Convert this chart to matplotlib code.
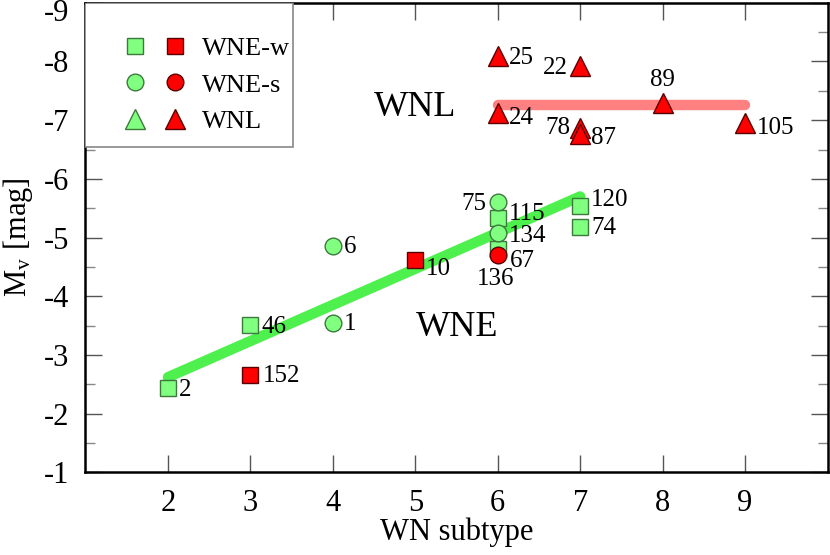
import numpy as np
import matplotlib.pyplot as plt
import matplotlib.transforms as mtransforms
from matplotlib.lines import Line2D
from matplotlib.patches import Rectangle
from matplotlib.legend_handler import HandlerTuple

plt.rcParams['font.family'] = ['Liberation Serif', 'DejaVu Serif']
plt.rcParams['mathtext.fontset'] = 'stix'

# WNE-w, green (squares)
wnew_g_sub = [2, 3, 6, 6, 7, 7]
wnew_g_mv = [-2.43, -3.51, -5.33, -4.80, -5.54, -5.18]
wnew_g_lab = ['2', '46', '115', '136', '120', '74']
# WNE-w, red (squares)
wnew_r_sub = [3, 5]
wnew_r_mv = [-2.65, -4.62]
wnew_r_lab = ['152', '10']
# WNE-s, green (circles)
wnes_g_sub = [4, 4, 6, 6]
wnes_g_mv = [-3.54, -4.85, -5.60, -5.07]
wnes_g_lab = ['1', '6', '75', '134']
# WNE-s, red (circles)
wnes_r_sub = [6]
wnes_r_mv = [-4.70]
wnes_r_lab = ['67']
# WNL, red (triangles)
wnl_r_sub = [6, 7, 6, 8, 7, 7, 9]
wnl_r_mv = [-8.10, -7.92, -7.12, -7.30, -6.86, -6.76, -6.96]
wnl_r_lab = ['25', '22', '24', '89', '78', '87', '105']

# fitted relations
wne_fit_x = [2, 7]
wne_fit_y = [-2.62, -5.70]
wnl_fit_x = [6, 9]
wnl_fit_y = [-7.26, -7.26]

# label offsets in pixels (dx, dy, ha)
offs = {
    '2': (11, -2, 'left'), '46': (11, -2, 'left'), '152': (12, -1, 'left'),
    '1': (11, -1, 'left'), '6': (11, -1, 'left'), '10': (11, -9, 'left'),
    '75': (-11, -2, 'right'), '115': (11, 4, 'left'), '134': (11, -3, 'left'),
    '67': (12, -6, 'left'), '136': (-2, -30, 'center'), '120': (11, 6, 'left'),
    '74': (11, -1, 'left'), '25': (11, -2, 'left'), '22': (-12, -2, 'right'),
    '24': (11, -5, 'left'), '89': (0, 23, 'center'), '78': (-10, 0, 'right'),
    '87': (11, -4, 'left'), '105': (12, -5, 'left'),
}

GFILL, GEDGE = '#80ff80', '#3c7a3c'
RFILL, REDGE = '#ff0000', '#5a0000'

fig = plt.figure(figsize=(8.3, 5.55), dpi=100)
ax = fig.add_axes([0.103, 0.149, 0.894, 0.846])

ax.plot(wne_fit_x, wne_fit_y, color='#4df04d', lw=7.5, solid_capstyle='round', zorder=1)
ax.plot(wnl_fit_x, wnl_fit_y, color='#ff8080', lw=7.5, solid_capstyle='round', zorder=1)

ms = 12
ax.plot(wnew_g_sub, wnew_g_mv, 's', ms=ms, mfc=GFILL, mec=GEDGE, mew=1, zorder=3)
ax.plot(wnew_r_sub, wnew_r_mv, 's', ms=ms, mfc=RFILL, mec=REDGE, mew=1, zorder=3)
ax.plot(wnes_g_sub, wnes_g_mv, 'o', ms=ms, mfc=GFILL, mec=GEDGE, mew=1, zorder=4)
ax.plot(wnes_r_sub, wnes_r_mv, 'o', ms=ms, mfc=RFILL, mec=REDGE, mew=1, zorder=4)
ax.plot(wnl_r_sub, wnl_r_mv, '^', ms=14, mfc=RFILL, mec=REDGE, mew=1, zorder=3)

for xs, ys, labs in [(wnew_g_sub, wnew_g_mv, wnew_g_lab), (wnew_r_sub, wnew_r_mv, wnew_r_lab),
                     (wnes_g_sub, wnes_g_mv, wnes_g_lab), (wnes_r_sub, wnes_r_mv, wnes_r_lab),
                     (wnl_r_sub, wnl_r_mv, wnl_r_lab)]:
    for x, y, t in zip(xs, ys, labs):
        dx, dy, ha = offs[t]
        ax.annotate(t, (x, y), xytext=(dx, dy), textcoords='offset pixels',
                    ha=ha, va='center', fontsize=18)

ax.text(5.0, -7.21, 'WNL', fontsize=26, ha='center', va='center')
ax.text(5.51, -3.46, 'WNE', fontsize=26, ha='center', va='center')

ax.set_xlim(1, 10)
ax.set_ylim(-1, -9)
ax.set_xticks(np.arange(2, 10))
ax.set_yticks(np.arange(-9, 0))
ax.set_yticklabels(['-%d' % v for v in range(9, 0, -1)])
ax.set_yticks(np.arange(-8.5, -1), minor=True)
ax.tick_params(axis='both', which='major', direction='in', length=12, width=1,
               color='#555555', labelsize=22, top=True, right=True, pad=12)
ax.tick_params(axis='y', which='minor', direction='in', length=7, width=1,
               color='#888888', left=True, right=True)
for s in ax.spines.values():
    s.set_linewidth(1.8)

# nudge the top "-9" label down so it stays inside the figure
top_lab = ax.get_yticklabels()[0]
top_lab.set_transform(top_lab.get_transform() +
                      mtransforms.ScaledTranslation(0, -7 / 100, fig.dpi_scale_trans))

ax.set_xlabel('WN subtype', fontsize=22, labelpad=0)
ax.set_ylabel(r'M$_\mathregular{v}$ [mag]', fontsize=22, labelpad=6)

# legend box drawn separately so it can hug the text on the right
ax.add_patch(Rectangle((0, 0.692), 0.28, 0.308, transform=ax.transAxes,
                       facecolor='white', edgecolor='#888888', lw=1.2, zorder=5))

def mk(m, fc, ec, size=ms):
    return Line2D([], [], ls='none', marker=m, ms=size, mfc=fc, mec=ec, mew=1)

handles = [(mk('s', GFILL, GEDGE), mk('s', RFILL, REDGE)),
           (mk('o', GFILL, GEDGE), mk('o', RFILL, REDGE)),
           (mk('^', GFILL, GEDGE, 14), mk('^', RFILL, REDGE, 14))]
leg = ax.legend(handles, ['WNE-w', 'WNE-s', 'WNL'],
                handler_map={tuple: HandlerTuple(ndivide=None, pad=0.76)},
                loc='upper left', bbox_to_anchor=(0.053, 0.928), fontsize=19,
                frameon=False, borderaxespad=0, borderpad=0,
                handlelength=2.27, handletextpad=0.64, labelspacing=0.5)
leg.set_zorder(6)

fig.savefig('out.png', dpi=100)
